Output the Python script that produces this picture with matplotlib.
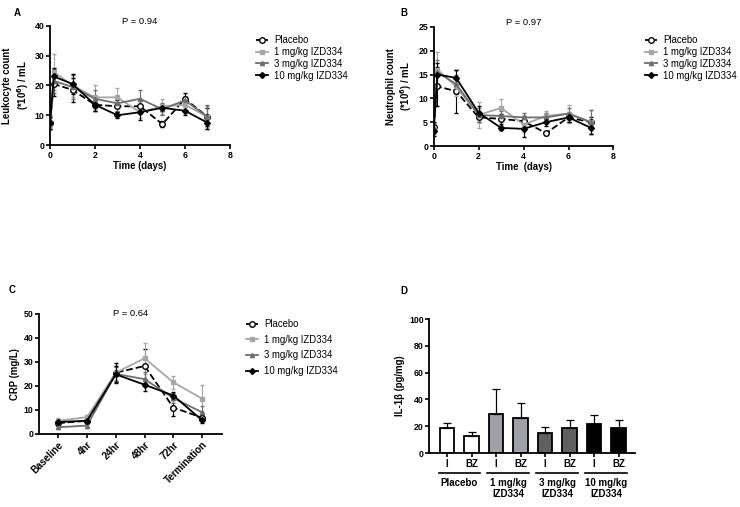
import matplotlib.pyplot as plt
from matplotlib.lines import Line2D
import numpy as np

plt.rcParams['font.family'] = ['Liberation Sans', 'DejaVu Sans']

groups = ['Placebo', '1 mg/kg IZD334', '3 mg/kg IZD334', '10 mg/kg IZD334']
colors = ['black', '#a6a6a6', '#6e6e6e', 'black']
markers = ['o', 's', '^', 'D']
styles = ['--', '-', '-', '-']

days = [0, 0.17, 1, 2, 3, 4, 5, 6, 7]

# panel A - leukocytes
leuko = [
    [7.5, 20.5, 18.5, 13.5, 13.0, 13.0, 7.0, 15.5, 9.5],
    [7.0, 24.5, 20.0, 16.0, 16.0, 11.0, 13.0, 13.5, 9.5],
    [8.0, 21.5, 19.5, 15.5, 14.0, 15.5, 12.0, 15.0, 9.5],
    [7.5, 23.0, 20.5, 13.5, 10.0, 11.0, 12.5, 11.5, 7.5],
]
leuko_err = [
    [2, 4, 4, 2, 2, 2, 1, 2, 3],
    [2, 6, 4, 4, 3, 2, 2.5, 2, 3.5],
    [2, 4, 4, 3, 2.5, 3, 2, 1.5, 4],
    [2, 3, 3.5, 2, 1, 2.5, 1, 1.5, 2],
]

# panel B - neutrophils
neutro = [
    [4.0, 12.5, 11.5, 6.0, 5.7, 5.2, 2.7, 6.0, 5.0],
    [3.5, 16.0, 12.5, 6.5, 8.0, 4.5, 6.3, 6.8, 5.0],
    [3.8, 15.5, 13.0, 6.5, 6.3, 6.0, 6.0, 6.8, 5.0],
    [3.2, 15.0, 14.3, 7.0, 3.8, 3.6, 5.0, 6.0, 3.8],
]
neutro_err = [
    [1, 4, 4.5, 1, 1, 1, 0.3, 1, 1],
    [1, 3.8, 2, 2.8, 1.8, 1.5, 1, 1.9, 2.5],
    [1, 2.5, 2, 1.5, 1, 1, 1, 1.2, 2.5],
    [1, 2.5, 1.7, 1.3, 0.5, 1.8, 0.7, 1, 1.3],
]

# panel C - CRP
crp_times = ['Baseline', '4hr', '24hr', '48hr', '72hr', 'Termination']
crp = [
    [4.5, 5.5, 25.5, 28.3, 11.0, 6.8],
    [5.5, 7.0, 25.5, 31.5, 21.5, 14.7],
    [2.8, 3.5, 25.0, 22.8, 15.0, 9.0],
    [5.0, 5.5, 24.8, 20.5, 16.0, 5.7],
]
crp_err = [
    [1, 1, 4, 7, 3.5, 1],
    [1, 1, 3, 6.5, 2.8, 5.5],
    [0.7, 0.8, 3, 3, 2, 2.5],
    [0.8, 0.8, 3.5, 2.5, 1.5, 1],
]

# panel D - IL-1beta
bar_labels = ['I', 'BZ', 'I', 'BZ', 'I', 'BZ', 'I', 'BZ']
il1b = [18.5, 13.0, 29.0, 26.5, 15.0, 18.5, 21.5, 19.0]
il1b_err = [4.0, 3.0, 19.0, 10.5, 4.3, 6.0, 7.0, 6.0]
bar_colors = ['white', 'white', '#a0a0a8', '#a0a0a8', '#606060', '#606060', 'black', 'black']
group_names = ['Placebo', '1 mg/kg\nIZD334', '3 mg/kg\nIZD334', '10 mg/kg\nIZD334']

fs_num = 6.3    # numeric tick labels
fs_cat = 7      # category tick labels
fs_lab = 6.9    # axis labels
fs_leg = 6.9    # legend
fs_p = 6.8      # p-values


def style_axes(ax):
    for s in ['top', 'right']:
        ax.spines[s].set_visible(False)
    for s in ['left', 'bottom']:
        ax.spines[s].set_linewidth(1.3)
    ax.tick_params(direction='out', length=3, width=1.2, labelsize=fs_num, pad=1)
    for lab in ax.get_xticklabels() + ax.get_yticklabels():
        lab.set_fontweight('bold')


def draw_lines(ax, x, data, errs):
    for i in range(4):
        mfc = 'white' if i == 0 else colors[i]
        ms = 4 if i == 0 else 3
        ax.errorbar(x, data[i], yerr=errs[i], color=colors[i], ls=styles[i],
                    marker=markers[i], ms=ms, mfc=mfc, mec=colors[i], mew=1,
                    lw=1.3, capsize=1.5, elinewidth=0.8)


def legend(x_px, y_px, spacing):
    handles = []
    for i in range(4):
        mfc = 'white' if i == 0 else colors[i]
        ms = 4 if i == 0 else 3
        handles.append(Line2D([], [], color=colors[i], ls=styles[i], lw=1.3,
                              marker=markers[i], ms=ms, mfc=mfc, mec=colors[i], mew=1))
    fig.legend(handles, groups, loc='upper left',
               bbox_to_anchor=(x_px / 740, 1 - y_px / 507), frameon=False,
               fontsize=fs_leg, handlelength=1.2, handletextpad=0.7,
               labelspacing=spacing, borderaxespad=0, borderpad=0)


fig = plt.figure(figsize=(7.4, 5.07), dpi=100)

# A
axA = fig.add_axes([0.0676, 0.714, 0.243, 0.235])
draw_lines(axA, days, leuko, leuko_err)
axA.set_xlim(0, 8)
axA.set_ylim(0, 40)
axA.set_xticks([0, 2, 4, 6, 8])
axA.set_yticks([0, 10, 20, 30, 40])
axA.set_ylabel('Leukocyte count\n(*10$^\\mathbf{6}$) / mL', fontsize=fs_lab, fontweight='bold', labelpad=3)
axA.set_xlabel('Time (days)', fontsize=fs_lab, fontweight='bold', labelpad=1)
style_axes(axA)
axA.text(0.5, 1.0, 'P = 0.94', transform=axA.transAxes, ha='center', va='bottom', fontsize=fs_p)
legend(256, 35, 0.2)
fig.text(0.018, 0.975, 'A', fontsize=fs_cat, fontweight='bold', va='center')

# B
axB = fig.add_axes([0.586, 0.712, 0.243, 0.235])
draw_lines(axB, days, neutro, neutro_err)
axB.set_xlim(0, 8)
axB.set_ylim(0, 25)
axB.set_xticks([0, 2, 4, 6, 8])
axB.set_yticks([0, 5, 10, 15, 20, 25])
axB.set_ylabel('Neutrophil count\n(*10$^\\mathbf{6}$) / mL', fontsize=fs_lab, fontweight='bold', labelpad=3)
axB.set_xlabel('Time  (days)', fontsize=fs_lab, fontweight='bold', labelpad=1)
style_axes(axB)
axB.text(0.5, 1.0, 'P = 0.97', transform=axB.transAxes, ha='center', va='bottom', fontsize=fs_p)
legend(645, 35, 0.2)
fig.text(0.541, 0.975, 'B', fontsize=fs_cat, fontweight='bold', va='center')

# C
axC = fig.add_axes([0.053, 0.144, 0.247, 0.237])
xc = np.arange(len(crp_times))
draw_lines(axC, xc, crp, crp_err)
axC.set_xlim(-0.66, 5.69)
axC.set_ylim(0, 50)
axC.set_xticks(xc)
axC.set_yticks([0, 10, 20, 30, 40, 50])
style_axes(axC)
axC.set_xticklabels(crp_times, rotation=45, ha='right', rotation_mode='anchor',
                    fontsize=fs_cat, fontweight='bold')
axC.set_ylabel('CRP (mg/L)', fontsize=fs_lab, fontweight='bold', labelpad=3)
axC.text(0.5, 0.965, 'P = 0.64', transform=axC.transAxes, ha='center', va='bottom', fontsize=fs_p)
legend(246, 319, 0.6)
fig.text(0.012, 0.428, 'C', fontsize=fs_cat, fontweight='bold', va='center')

# D
axD = fig.add_axes([0.58, 0.1065, 0.278, 0.264])
xd = np.arange(len(il1b))
axD.bar(xd, il1b, width=0.6, color=bar_colors, edgecolor='black', linewidth=1.3)
axD.errorbar(xd, il1b, yerr=[np.zeros(len(il1b)), il1b_err], fmt='none',
             ecolor='black', elinewidth=0.9, capsize=3, capthick=0.9)
axD.set_xlim(-0.73, 7.67)
axD.set_ylim(0, 100)
axD.set_yticks([0, 20, 40, 60, 80, 100])
axD.set_xticks(xd)
style_axes(axD)
axD.set_xticklabels(bar_labels, fontsize=fs_cat, fontweight='bold')
axD.set_ylabel('IL-1β (pg/mg)', fontsize=fs_lab, fontweight='bold', labelpad=3)
for g in range(4):
    x0, x1 = 2 * g - 0.35, 2 * g + 1 + 0.35
    axD.plot([x0, x1], [-0.15, -0.15], transform=axD.get_xaxis_transform(),
             color='black', lw=1.2, clip_on=False)
    axD.text(2 * g + 0.5, -0.19, group_names[g], transform=axD.get_xaxis_transform(),
             ha='center', va='top', fontsize=fs_cat, fontweight='bold', linespacing=1.1)
fig.text(0.541, 0.426, 'D', fontsize=fs_cat, fontweight='bold', va='center')

fig.savefig('out.png', dpi=100)
